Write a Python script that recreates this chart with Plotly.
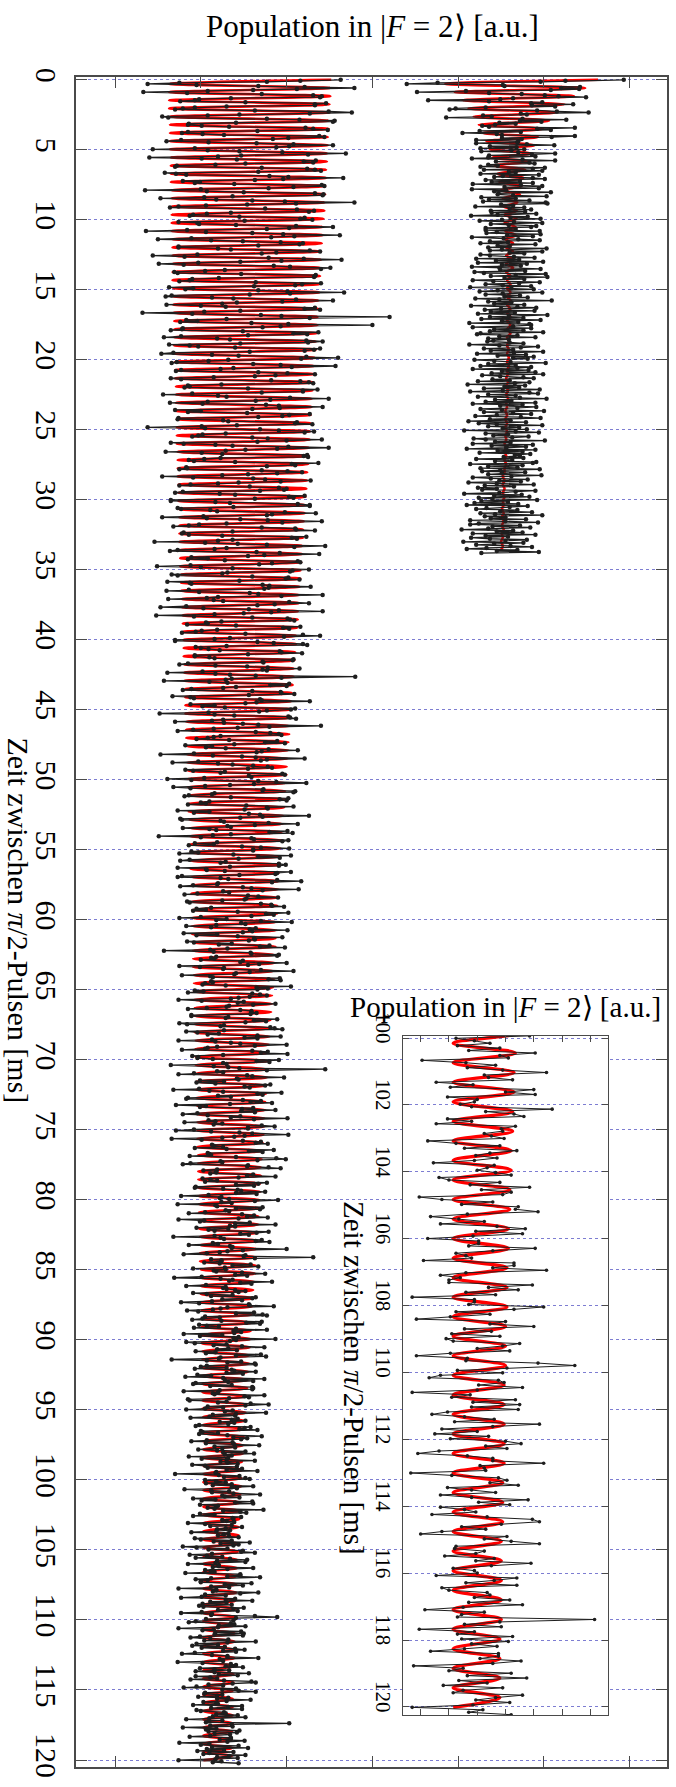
import numpy as np
import plotly.graph_objects as go

# ---------------- data (population in a.u.) ----------------
SAMPLE_STEP_MS = 0.073   # spacing of the measured points
PEAK_STEP_MS = 0.292     # spacing of the fit extrema (half an oscillation period)

main_pop_a = [
    363,316,277,175,138,195,267,321,379,312,261,208,133,184,271,331,
    341,339,235,198,193,176,252,346,333,333,230,193,179,170,263,349,
    376,327,245,208,155,162,277,315,356,354,241,186,185,201,233,322,
    331,348,266,185,178,202,227,338,344,302,284,177,160,209,265,308,
    354,303,288,193,144,208,245,295,369,325,247,220,140,201,242,334,
    320,331,252,217,172,170,271,324,333,340,267,158,171,183,280,302,
    366,296,263,179,199,193,239,341,344,308,279,200,135,207,250,333,
    343,342,237,204,153,218,260,298,379,311,254,206,174,164,275,312,
    332,326,235,207,191,187,245,321,316,330,251,174,196,198,241,311,
    354,303,277,184,136,206,260,296,362,309,282,189,150,212,249,293,
    319,315,267,174,174,220,235,327,339,288,271,196,144,181,279,320,
    364,294,246,197,151,180,285,304,351,340,228,205,169,173,247,334,
    333,332,221,190,187,175,264,340,318,310,262,163,191,182,267,301,
    367,304,257,166,159,213,238,311,354,295,242,225,160,200,229,333,
    321,339,246,204,132,190,270,294,420,327,230,183,196,176,259,302,
    400,293,272,179,178,165,249,337,308,324,255,177,157,219,234,323,
    342,325,246,163,187,197,240,339,332,321,257,168,154,213,244,323,
    360,317,232,209,172,166,261,293,357,306,238,223,177,171,267,301,
    333,287,263,215,165,177,282,316,326,331,224,185,187,181,255,336,
    319,319,271,190,156,220,230,304,349,281,264,208,164,202,276,291,
    342,292,260,170,200,185,254,327,303,295,267,174,173,226,232,312,
    310,330,242,201,138,205,269,291,332,321,229,202,197,190,260,278,
    341,300,266,165,180,217,237,302,349,289,252,229,159,201,225,324,
    320,325,223,204,186,192,240,337,306,310,277,183,184,175,271,301,
    318,289,255,225,155,191,261,275,328,293,244,220,188,175,257,291,
    300,297,269,179,170,222,240,321,303,308,263,165,165,217,234,313,
]
main_pop_b = [
    327,327,238,173,177,211,219,298,334,283,277,203,155,207,246,278,
    341,295,230,198,186,168,271,310,311,333,237,180,178,186,225,323,
    306,312,237,220,146,205,243,277,345,309,230,216,173,164,265,292,
    338,274,255,189,208,185,228,313,316,283,268,188,149,200,237,326,
    307,304,231,225,166,173,260,302,299,315,245,161,187,189,272,280,
    328,279,274,186,160,198,257,267,342,294,220,207,162,215,226,303,
    326,286,266,183,153,203,256,291,342,282,250,216,148,192,260,301,
    304,309,224,206,208,184,241,316,296,303,219,201,194,178,252,319,
    339,297,234,216,170,170,266,285,319,324,230,194,200,209,222,292,
    294,318,255,193,193,210,216,308,307,272,273,185,175,217,254,278,
    315,272,277,202,161,217,234,264,380,294,236,229,157,210,231,303,
    281,300,241,226,189,179,260,293,294,309,256,167,188,192,269,271,
    327,265,252,188,216,202,228,310,305,277,268,209,152,216,239,302,
    304,311,226,213,170,227,249,267,340,280,243,215,191,173,264,281,
    291,294,223,215,208,195,233,289,275,298,239,182,213,206,229,279,
    313,271,265,192,153,214,248,264,321,277,270,197,167,220,237,261,
    278,283,255,182,191,228,223,295,298,256,259,204,161,189,267,288,
    323,262,234,205,168,188,273,272,310,308,216,213,186,181,235,302,
    292,300,210,200,206,185,253,308,277,278,251,173,210,192,256,269,
    326,272,246,176,178,223,227,279,313,263,231,235,179,210,218,301,
    280,307,235,214,151,200,259,262,302,295,219,193,215,186,248,270,
    303,261,261,189,197,175,238,305,267,292,244,187,176,229,223,291,
    299,291,234,173,206,207,228,305,289,287,245,178,173,223,232,289,
    317,283,220,219,191,176,249,259,314,272,226,233,196,181,255,267,
    290,253,251,225,184,187,270,282,283,297,212,195,206,191,243,302,
    276,285,259,200,175,230,218,270,306,247,252,218,183,212,264,257,
]
main_pop_c = [
    301,260,249,180,219,195,243,295,262,263,256,184,192,236,221,280,
    269,298,231,211,157,215,258,259,291,289,218,212,216,200,249,246,
    300,268,255,175,199,227,226,270,308,257,241,239,178,211,214,292,
    279,293,212,214,205,202,229,305,265,278,266,193,203,185,260,269,
    277,257,244,235,174,201,250,243,287,261,233,230,207,185,246,259,
    259,265,258,189,189,232,229,289,262,276,252,175,184,227,223,281,
    286,295,227,183,196,221,208,266,293,251,266,213,174,217,235,246,
    300,263,219,208,205,178,260,278,270,301,226,190,197,196,214,291,
    265,280,226,230,165,215,232,245,345,277,219,226,192,174,254,260,
    297,242,244,199,227,195,217,281,275,251,257,198,168,210,226,294,
    266,272,220,235,185,183,249,270,258,283,234,171,206,199,261,248,
    287,247,263,196,179,208,246,235,301,262,209,217,181,225,215,271,
    286,255,255,192,171,212,245,260,302,251,239,225,166,201,249,270,
    264,278,213,215,226,193,230,285,256,272,208,210,212,187,241,288,
    299,266,223,225,188,179,255,254,279,293,219,203,218,218,211,261,
    254,287,244,202,211,219,205,277,267,241,262,194,193,226,243,247,
    275,241,265,209,177,224,222,233,290,263,224,236,173,217,219,272,
    241,269,229,233,205,186,248,262,254,278,244,174,204,199,257,240,
    287,234,240,195,232,209,216,279,265,246,256,216,168,223,227,271,
    264,280,214,220,186,234,237,236,300,249,231,222,207,180,252,250,
    331,263,212,224,224,204,222,258,237,267,228,191,229,215,218,248,
    275,240,254,201,169,223,237,233,283,246,259,206,183,229,226,230,
    240,252,244,191,207,237,212,264,260,225,248,213,177,198,256,257,
    285,231,223,214,184,197,262,241,272,277,205,222,202,190,224,271,
    253,269,198,207,221,192,241,277,238,247,239,180,225,199,244,238,
    287,241,234,183,193,230,215,248,274,232,219,242,194,217,206,270,
]
main_pop_d = [
    241,276,223,221,166,207,247,231,263,264,207,200,230,193,236,239,
    264,230,249,196,212,182,226,274,228,261,232,194,191,236,211,260,
    261,260,222,180,220,214,216,274,251,256,233,185,187,230,220,258,
    279,252,208,226,205,183,237,228,276,241,214,240,210,188,243,236,
    252,222,239,232,198,194,258,251,245,266,200,202,220,198,231,271,
    238,254,247,207,189,237,206,239,268,216,240,225,197,219,252,226,
    262,228,236,186,232,201,230,263,223,231,243,190,205,242,208,248,
    230,266,218,217,170,221,245,227,252,257,205,218,229,206,236,214,
    261,236,242,181,212,233,213,238,269,225,228,245,191,217,201,260,
    240,261,199,220,218,208,216,273,226,246,253,199,216,191,247,237,
    238,225,230,239,185,205,236,211,248,229,219,234,218,189,232,227,
    220,233,244,193,200,236,215,257,223,244,238,179,195,231,209,249,
    247,263,213,187,207,225,194,234,254,219,252,217,185,221,221,214,
    261,231,205,212,216,182,246,246,231,269,212,194,208,200,200,259,
    228,249,212,233,174,218,218,214,267,246,205,229,201,177,240,229,
    260,211,230,202,236,198,203,250,238,220,243,201,177,213,212,263,
    289,241,206,238,194,186,235,239,221,252,220,174,215,202,247,217,
    250,216,249,199,188,211,232,204,264,231,195,220,190,228,201,240,
    251,226,241,193,178,213,231,231,267,222,225,226,173,202,235,241,
    229,249,199,216,233,194,216,256,221,243,194,211,219,188,227,259,
    264,237,209,226,195,180,241,225,244,264,205,204,225,219,197,232,
    219,258,230,203,218,220,191,248,232,212,248,195,200,227,229,218,
    243,214,252,210,183,225,209,206,303,236,211,237,179,218,206,245,
    209,242,216,234,211,187,235,235,222,251,231,175,210,200,244,213,
    255,207,227,196,238,210,203,252,233,219,243,217,174,224,214,244,
]

second_pop = [
    693,625,596,476,440,552,554,642,620,641,608,509,452,536,574,601,
    617,649,564,549,465,536,598,585,634,586,613,532,497,490,592,615,
    652,573,580,529,539,486,575,626,572,597,548,567,543,528,536,636,
    592,608,525,573,505,545,551,636,609,551,574,521,570,569,521,580,
    612,537,568,526,577,562,527,570,613,586,536,590,535,516,575,613,
    544,583,589,535,546,526,601,587,530,598,559,567,526,594,552,542,
    587,601,532,572,539,587,517,573,598,554,594,516,556,542,608,547,
    546,564,603,527,567,536,583,529,602,604,550,564,520,577,560,585,
    538,578,539,591,546,515,581,561,596,551,525,565,598,538,559,591,
    585,532,567,532,595,545,533,596,557,587,516,553,570,595,537,558,
    526,590,546,560,535,603,551,537,598,560,577,526,537,565,589,521,
    571,544,599,523,580,551,573,516,548,596,549,578,519,530,602,567,
    538,604,554,577,517,541,595,571,532,552,585,514,562,588,546,525,
    598,552,532,572,554,581,520,548,609,535,562,542,577,515,569,591,
    550,531,589,538,566,523,604,559,537,576,527,596,551,570,513,583,
    585,564,517,585,542,576,537,599,526,522,569,548,590,535,559,541,
    534,560,576,513,548,593,573,530,564,538,599,565,522,579,546,588,
    564,581,519,542,561,602,535,567,526,585,569,517,582,551,590,539,
    599,528,549,576,588,540,560,523,583,566,511,578,554,571,530,595,
    552,514,583,593,535,567,523,572,603,543,562,532,590,517,575,549,
    591,569,526,551,600,530,564,585,545,520,573,596,537,561,512,579,
    524,545,598,535,571,552,580,507,567,594,532,558,541,582,563,518,
    532,601,543,561,517,587,539,579,556,510,590,546,575,525,584,566,
    572,553,576,521,563,543,591,587,514,575,535,569,526,595,549,528,
    578,551,535,597,562,517,538,581,548,573,512,545,588,531,565,523,
    545,528,590,567,548,507,574,542,583,524,540,592,527,558,519,570,
    510,581,560,533,521,569,549,586,526,543,598,531,555,538,579,514,
    555,593,524,514,572,540,584,535,504,564,545,575,517,590,532,558,
    515,537,580,555,506,576,542,521,561,586,533,510,569,545,594,527,
]

# extrema of the red fit curves (alternating maximum / minimum)
main_fit_peaks_a = [
    352,163,351,163,351,163,350,163,350,164,349,164,349,164,348,164,
    348,164,347,165,347,165,346,165,346,165,345,166,345,166,344,166,
    344,166,343,166,342,166,342,167,341,167,340,167,340,167,339,167,
    339,167,338,168,338,168,337,168,337,168,336,169,336,169,335,169,
    334,169,334,170,333,170,332,170,331,170,331,171,330,171,329,171,
    329,171,328,172,328,172,327,172,327,172,326,173,326,173,325,173,
    324,173,324,174,323,174,322,174,321,174,321,175,320,175,319,175,
    319,175,318,176,318,176,317,176,316,177,316,177,315,177,314,178,
    314,178,313,179,313,179,312,179,311,180,311,180,310,180,309,181,
    308,181,308,181,307,182,306,182,305,182,305,182,304,183,303,183,
    303,183,302,184,302,184,301,184,300,185,300,185,299,185,298,186,
    297,186,297,186,296,187,295,187,294,187,294,187,293,188,292,188,
    292,188,291,189,291,189,290,189,290,189,289,190,289,190,288,190,
]
main_fit_peaks_b = [
    288,190,287,191,287,191,286,191,286,191,285,192,285,192,284,192,
    283,192,283,193,282,193,281,193,280,193,280,194,279,194,278,194,
    278,194,277,195,277,195,276,195,276,195,275,196,275,196,274,196,
    274,196,273,196,272,196,272,197,271,197,270,197,270,197,269,197,
    269,197,268,198,268,198,267,198,267,198,266,199,266,199,265,199,
    264,199,264,200,263,200,262,200,261,200,261,201,260,201,259,201,
    259,201,258,201,258,201,257,202,256,202,256,202,255,202,254,202,
    254,202,253,202,253,202,252,203,251,203,251,203,250,203,249,203,
    249,203,248,203,248,203,247,203,247,203,246,203,246,203,245,203,
    245,203,244,203,244,203,243,203,243,203,242,203,242,203,241,203,
    241,203,241,203,240,203,240,203,240,203,239,203,239,203,239,203,
    239,203,239,203,238,203,238,203,238,203,237,203,237,203,237,203,
    237,203,237,203,236,203,236,203,236,203,236,203,
]
second_fit_peaks = [
    663,485,648,496,635,505,624,512,614,518,606,524,599,529,593,533,
    589,537,584,540,581,543,578,546,576,548,574,550,572,552,569,553,
    568,554,568,554,567,555,567,555,564,556,564,556,564,556,564,556,
    561,557,561,557,561,557,561,557,561,557,561,557,561,557,561,557,
    559,557,559,557,559,557,559,557,558,556,558,556,558,556,558,556,
    557,555,557,555,557,555,557,555,556,554,556,554,556,554,556,554,
    554,552,554,552,554,552,554,552,553,551,553,551,553,551,553,551,
    552,550,552,550,
]

# ---------------- assemble ----------------
main_pop = main_pop_a + main_pop_b + main_pop_c + main_pop_d
main_fit_peaks = main_fit_peaks_a + main_fit_peaks_b
t_main = np.arange(len(main_pop)) * SAMPLE_STEP_MS
t_second = np.arange(len(second_pop)) * SAMPLE_STEP_MS
t_main_fit = np.arange(len(main_fit_peaks)) * PEAK_STEP_MS
t_second_fit = np.arange(len(second_fit_peaks)) * PEAK_STEP_MS

main_pop_arr = np.array(main_pop)
main_fit_arr = np.array(main_fit_peaks)
ins = t_main >= 99.8
ins_fit = t_main_fit >= 99.5

W, H = 676, 1787
ML, MR, MT, MB = 76, 9, 77, 20
PW, PH = W - ML - MR, H - MT - MB


def fx(px):
    return (px - ML) / PW


def fy(py):
    return (H - MB - py) / PH


FONT = "Liberation Serif"
BLACK = "#1e1e1e"
RED = "#ff0000"
GRID = "rgb(125,125,210)"
AXC = "#4a4a4a"

fig = go.Figure()

# main panel
fig.add_trace(go.Scatter(x=main_fit_arr, y=t_main_fit, mode="lines",
                         line=dict(color=RED, width=2.6, shape="spline"),
                         hoverinfo="skip", showlegend=False))
fig.add_trace(go.Scatter(x=second_fit_peaks, y=t_second_fit, mode="lines",
                         line=dict(color=RED, width=2.6, shape="spline"),
                         hoverinfo="skip", showlegend=False))
fig.add_trace(go.Scatter(x=main_pop, y=t_main, mode="lines+markers",
                         line=dict(color=BLACK, width=1.3),
                         marker=dict(color=BLACK, size=4.5),
                         showlegend=False))
fig.add_trace(go.Scatter(x=second_pop, y=t_second, mode="lines+markers",
                         line=dict(color=BLACK, width=1.3),
                         marker=dict(color=BLACK, size=4.5),
                         showlegend=False))

# inset panel (100 - 120 ms)
fig.add_trace(go.Scatter(x=main_fit_arr[ins_fit], y=t_main_fit[ins_fit], mode="lines",
                         line=dict(color=RED, width=3.4, shape="spline"),
                         xaxis="x2", yaxis="y2", hoverinfo="skip", showlegend=False))
fig.add_trace(go.Scatter(x=main_pop_arr[ins], y=t_main[ins], mode="lines+markers",
                         line=dict(color=BLACK, width=1.0),
                         marker=dict(color=BLACK, size=3.6),
                         xaxis="x2", yaxis="y2", showlegend=False))

fig.update_layout(
    width=W, height=H,
    margin=dict(l=ML, r=MR, t=MT, b=MB, autoexpand=False),
    paper_bgcolor="white", plot_bgcolor="white",
    font=dict(family=FONT, color="black"),
    xaxis=dict(domain=[0, 1], range=[54.5, 743.4], tick0=0, dtick=100,
               showticklabels=False, ticks="inside", ticklen=11, tickwidth=1.4,
               tickcolor=AXC, showline=True, linecolor=AXC, linewidth=1.5,
               mirror="ticks", showgrid=False, zeroline=False),
    yaxis=dict(domain=[0, 1], range=[120.5, -0.2], tick0=0, dtick=5,
               ticks="inside", ticklen=11, tickwidth=1.4, tickcolor=AXC,
               showline=True, linecolor=AXC, linewidth=1.5, mirror="ticks",
               showgrid=True, gridcolor=GRID, griddash="dot", gridwidth=0.9,
               zeroline=False, tickangle=90, ticklabelstandoff=2,
               tickfont=dict(family=FONT, size=30, color="black")),
    xaxis2=dict(domain=[fx(403), fx(608)], anchor="y2", range=[167.5, 312.5],
                tick0=0, dtick=20, showticklabels=False, ticks="inside",
                ticklen=6, tickwidth=1.2, tickcolor=AXC, showline=True,
                linecolor=AXC, linewidth=1.4, mirror="ticks", showgrid=False,
                zeroline=False),
    yaxis2=dict(domain=[fy(1715), fy(1036)], anchor="x2", range=[120.24, 99.94],
                tick0=0, dtick=2, ticks="inside", ticklen=6, tickwidth=1.2,
                tickcolor=AXC, showline=True, linecolor=AXC, linewidth=1.4,
                mirror="ticks", showgrid=True, gridcolor=GRID, griddash="dot",
                gridwidth=0.9, zeroline=False, tickangle=90, ticklabelstandoff=1,
                ticklabelshift=7,
                tickfont=dict(family=FONT, size=21, color="black")),
    shapes=[dict(type="rect", xref="x2 domain", yref="y2 domain",
                 x0=0, x1=1, y0=0, y1=1, fillcolor="white",
                 line=dict(width=0), layer="below")],
    annotations=[
        dict(text="Population in |<i>F</i> = 2⟩ [a.u.]", xref="paper", yref="paper",
             x=fx(372), y=fy(26), xanchor="center", yanchor="middle",
             showarrow=False, font=dict(family=FONT, size=31, color="black")),
        dict(text="Zeit zwischen <i>π</i>/2-Pulsen [ms]", xref="paper", yref="paper",
             x=fx(18.5), y=fy(920), xanchor="center", yanchor="middle", textangle=90,
             showarrow=False, font=dict(family=FONT, size=30, color="black")),
        dict(text="Population in |<i>F</i> = 2⟩ [a.u.]", xref="paper", yref="paper",
             x=fx(505), y=fy(1007), xanchor="center", yanchor="middle",
             showarrow=False, font=dict(family=FONT, size=29, color="black")),
        dict(text="Zeit zwischen <i>π</i>/2-Pulsen [ms]", xref="paper", yref="paper",
             x=fx(354), y=fy(1378), xanchor="center", yanchor="middle", textangle=90,
             showarrow=False, font=dict(family=FONT, size=29, color="black")),
    ],
)

fig.write_html("out.html")
